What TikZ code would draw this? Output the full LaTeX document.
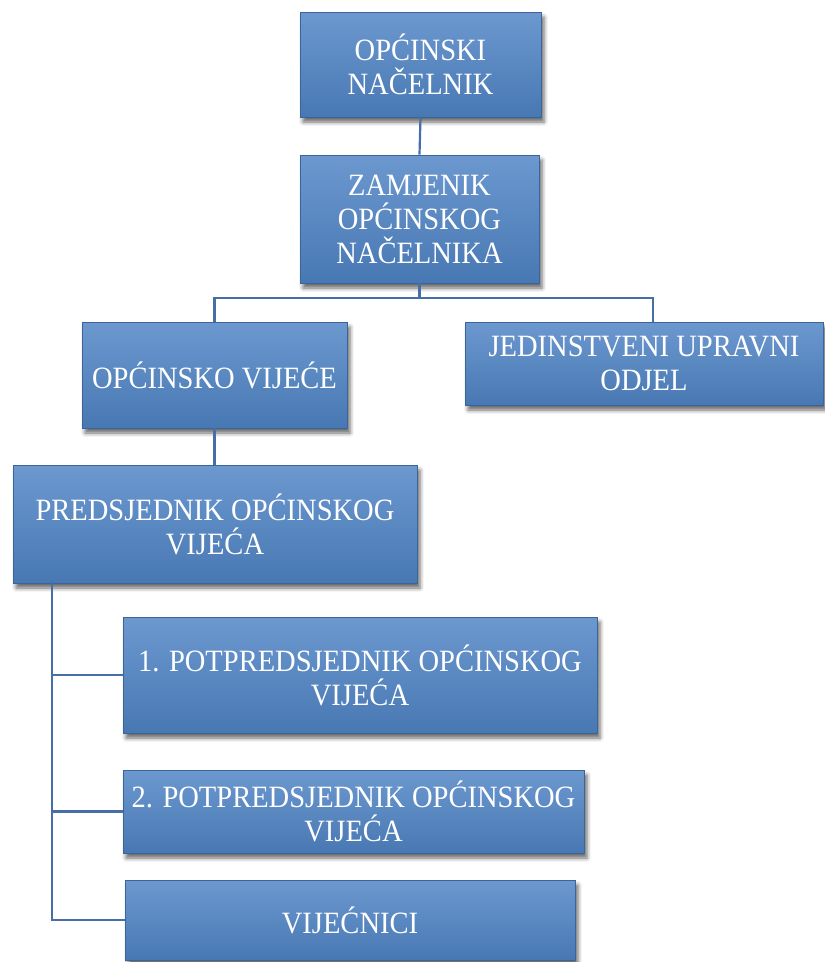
\documentclass[tikz,border=0pt]{standalone}
\usepackage{fontspec}
\setmainfont{Liberation Serif}[FakeStretch=0.92]
\usetikzlibrary{shadows.blur}
\definecolor{boxtop}{HTML}{6C98CF}
\definecolor{boxbot}{HTML}{4878B3}
\definecolor{boxline}{HTML}{3B6599}
\definecolor{connc}{HTML}{456FA6}
\tikzset{
  orgbox/.style={rectangle, draw=boxline, line width=0.8pt, top color=boxtop, bottom color=boxbot,
    text=white, align=center, font=\fontsize{31}{34}\selectfont, inner sep=0pt,
    blur shadow={shadow xshift=3pt, shadow yshift=-5pt, shadow blur radius=4pt, shadow opacity=60}},
  connline/.style={draw=connc, line width=2.2pt}
}
\begin{document}
\begin{tikzpicture}[x=1pt,y=-1pt]
\useasboundingbox (0,0) rectangle (825,962);
\node[orgbox, minimum width=241pt, minimum height=105pt] (b1) at (420.5,64.5) {OPĆINSKI\\NAČELNIK};
\node[orgbox, minimum width=239pt, minimum height=128pt] (b2) at (419.5,219) {ZAMJENIK\\OPĆINSKOG\\NAČELNIKA};
\node[orgbox, minimum width=265pt, minimum height=106pt] (b3) at (214.5,375) {OPĆINSKO VIJEĆE};
\node[orgbox, minimum width=358pt, minimum height=83pt] (b4) at (644,363.5) {JEDINSTVENI UPRAVNI\\ODJEL};
\node[orgbox, minimum width=404pt, minimum height=118pt] (b5) at (215,524) {PREDSJEDNIK OPĆINSKOG\\VIJEĆA};
\node[orgbox, minimum width=474pt, minimum height=116pt] (b6) at (360,675) {1. POTPREDSJEDNIK OPĆINSKOG\\VIJEĆA};
\node[orgbox, minimum width=461pt, minimum height=83pt] (b7) at (353.5,811.5) {2. POTPREDSJEDNIK OPĆINSKOG\\VIJEĆA};
\node[orgbox, minimum width=450pt, minimum height=80pt] (b8) at (350,920) {VIJEĆNICI};
\coordinate (hr) at (653,298);
\coordinate (trunk) at (52,582);
\draw[connline] (b1.south) -- (b2.north);
\draw[connline] (b2.south) -- (b2.south |- hr);
\draw[connline] (b3.north) |- (hr) -- (hr |- b4.north);
\draw[connline] (b3.south) -- (b3.south |- b5.north);
\draw[connline] (trunk) |- (b8.west);
\draw[connline] (trunk |- b6.west) -- (b6.west);
\draw[connline] (trunk |- b7.west) -- (b7.west);
\end{tikzpicture}
\end{document}
